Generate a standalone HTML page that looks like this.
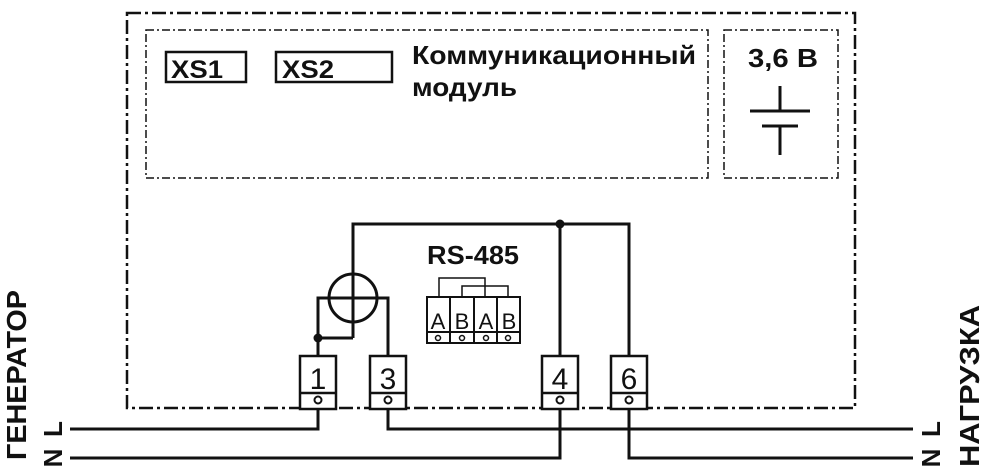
<!DOCTYPE html>
<html><head><meta charset="utf-8"><style>
body{margin:0;background:#fff;}
svg{display:block;}
text{font-family:"Liberation Sans","DejaVu Sans",sans-serif;fill:#111;}
</style></head><body>
<svg width="983" height="474" viewBox="0 0 983 474" xmlns="http://www.w3.org/2000/svg">
<rect width="983" height="474" fill="#fff"/>
<g fill="none" stroke="#111">
<rect x="127" y="13" width="728" height="395" stroke-width="2.5" stroke-dasharray="14,4,3,4"/>
<rect x="146" y="30" width="562" height="148" stroke-width="1.5" stroke-dasharray="8,3,2,3"/>
<rect x="724" y="30" width="114" height="148" stroke-width="1.5" stroke-dasharray="8,3,2,3"/>
<rect x="166" y="52" width="80" height="30" stroke-width="2.5"/>
<rect x="276" y="52" width="116" height="30" stroke-width="2.5"/>
<g stroke-width="3">
<line x1="780" y1="86" x2="780" y2="111"/>
<line x1="750" y1="111" x2="810" y2="111"/>
<line x1="762" y1="126" x2="798" y2="126"/>
<line x1="780" y1="126" x2="780" y2="155"/>
</g>
<g stroke-width="3">
<polyline points="353,338 353,224 629,224 629,356"/>
<line x1="560" y1="224" x2="560" y2="356"/>
<circle cx="353" cy="298" r="24"/>
<polyline points="318,356 318,298 388,298 388,356"/>
<line x1="318" y1="338" x2="353" y2="338"/>
<polyline points="70,429 318,429 318,404"/>
<polyline points="388,404 388,429 913,429"/>
<polyline points="70,458 560,458 560,404"/>
<polyline points="629,404 629,458 913,458"/>
</g>
<g stroke-width="2.5">
<rect x="300" y="356" width="36" height="53" fill="#fff"/><line x1="300" y1="393" x2="336" y2="393"/>
<rect x="370" y="356" width="36" height="53" fill="#fff"/><line x1="370" y1="393" x2="406" y2="393"/>
<rect x="542" y="356" width="36" height="53" fill="#fff"/><line x1="542" y1="393" x2="578" y2="393"/>
<rect x="611" y="356" width="36" height="53" fill="#fff"/><line x1="611" y1="393" x2="647" y2="393"/>
</g>
<g stroke-width="2" fill="#fff">
<circle cx="318" cy="400" r="3.5"/><circle cx="388" cy="400" r="3.5"/>
<circle cx="560" cy="400" r="3.5"/><circle cx="629" cy="400" r="3.5"/>
</g>
<g stroke-width="2">
<rect x="427" y="297" width="93" height="46"/>
<line x1="450" y1="297" x2="450" y2="343"/>
<line x1="474" y1="297" x2="474" y2="343"/>
<line x1="497" y1="297" x2="497" y2="343"/>
<line x1="427" y1="332" x2="520" y2="332"/>
</g>
<g stroke-width="1.5">
<polyline points="439,297 439,278 485,278 485,297"/>
<polyline points="462,297 462,286 508,286 508,297"/>
<circle cx="438" cy="338" r="2.5"/><circle cx="462" cy="338" r="2.5"/>
<circle cx="486" cy="338" r="2.5"/><circle cx="508" cy="338" r="2.5"/>
</g>
</g>
<circle cx="560" cy="224" r="4.5" fill="#111"/>
<circle cx="318" cy="338" r="4.5" fill="#111"/>
<g font-weight="bold">
<text x="171" y="78" font-size="25" textLength="52" lengthAdjust="spacingAndGlyphs">XS1</text>
<text x="282" y="78" font-size="25" textLength="52" lengthAdjust="spacingAndGlyphs">XS2</text>
<text x="412" y="64" font-size="26" textLength="284" lengthAdjust="spacingAndGlyphs">Коммуникационный</text>
<text x="412" y="96" font-size="26" textLength="105" lengthAdjust="spacingAndGlyphs">модуль</text>
<text x="748" y="67" font-size="26" textLength="70" lengthAdjust="spacingAndGlyphs">3,6 В</text>
<text x="427" y="264" font-size="26" textLength="92" lengthAdjust="spacingAndGlyphs">RS-485</text>
</g>
<g font-size="22" text-anchor="middle">
<text x="438" y="329">A</text><text x="462" y="329">B</text>
<text x="486" y="329">A</text><text x="509" y="329">B</text>
</g>
<g font-size="30" text-anchor="middle">
<text x="318" y="389">1</text><text x="388" y="389">3</text>
<text x="560" y="389">4</text><text x="629" y="389">6</text>
</g>
<g font-weight="bold" font-size="28">
<text transform="translate(26,375) rotate(-90)" text-anchor="middle" textLength="170" lengthAdjust="spacingAndGlyphs">ГЕНЕРАТОР</text>
<text transform="translate(62,429) rotate(-90)" text-anchor="middle" font-size="26">L</text>
<text transform="translate(62,458) rotate(-90)" text-anchor="middle" font-size="26">N</text>
<text transform="translate(940,429) rotate(-90)" text-anchor="middle" font-size="26">L</text>
<text transform="translate(940,458) rotate(-90)" text-anchor="middle" font-size="26">N</text>
<text transform="translate(979,386) rotate(-90)" text-anchor="middle" textLength="162" lengthAdjust="spacingAndGlyphs">НАГРУЗКА</text>
</g>
</svg>
</body></html>
